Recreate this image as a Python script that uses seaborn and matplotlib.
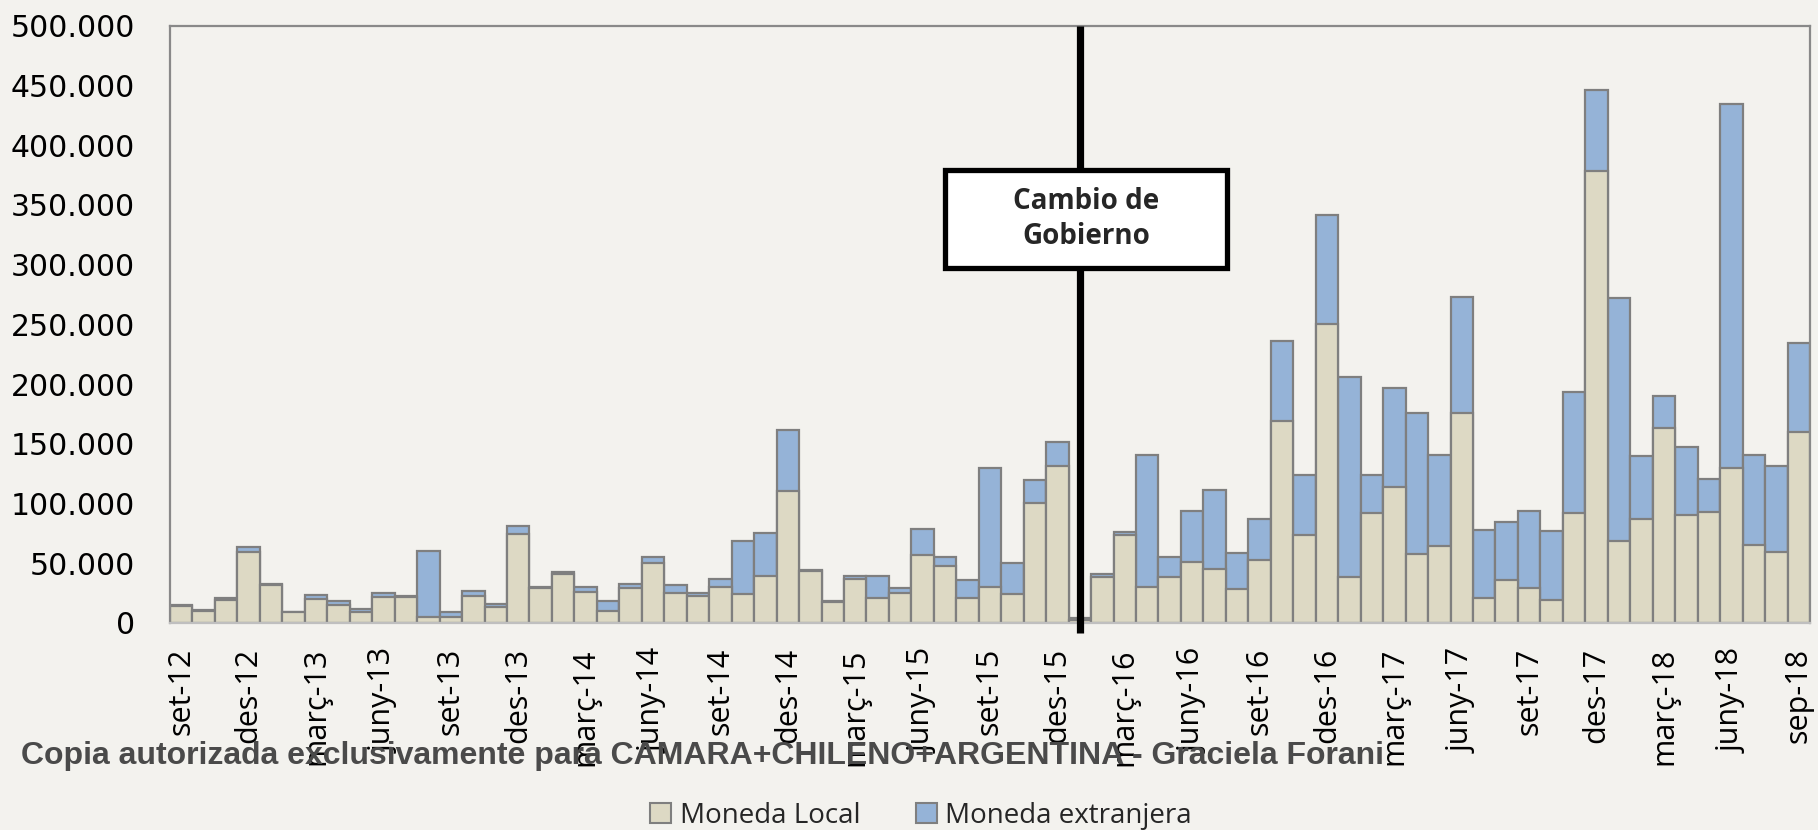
import matplotlib
matplotlib.use("Agg")
import matplotlib.pyplot as plt
from matplotlib.patches import Rectangle, Patch
from matplotlib.ticker import FuncFormatter
import seaborn as sns
import numpy as np

# ---------------- data ----------------
month_names = ["set", "oct", "nov", "des", "gen", "febr", "març", "abr", "maig", "juny", "jul", "ag"]
months = []
for i in range(73):
    m = month_names[i % 12]
    yr = 12 + (i + 8) // 12
    months.append(f"{m}-{yr}")

tick_labels = ["set-12", "des-12", "març-13", "juny-13", "set-13", "des-13", "març-14",
               "juny-14", "set-14", "des-14", "març-15", "juny-15", "set-15", "des-15",
               "març-16", "juny-16", "set-16", "des-16", "març-17", "juny-17", "set-17",
               "des-17", "març-18", "juny-18", "sep-18"]

moneda_local = [14000, 10000, 19500, 59500, 32000, 9000, 20000, 15300, 8900, 21800,
                21800, 4700, 5300, 22600, 13700, 74800, 29000, 41000, 25700, 9800,
                29300, 50200, 25400, 22600, 29800, 24300, 39000, 110500, 43500, 17300,
                36800, 21200, 25400, 56900, 47700, 21200, 30100, 24500, 100400, 131400,
                2500, 38200, 73900, 30400, 38800, 50800, 45500, 28700, 52700, 169300,
                73600, 249900, 38800, 92300, 113500, 57500, 64100, 176100, 20800, 35700,
                29600, 18900, 91900, 377900, 68700, 87000, 163300, 90000, 93100, 129700,
                65600, 59500, 160000]

moneda_extranjera = [800, 600, 1700, 4100, 400, 200, 3200, 3400, 2500, 3600,
                     1100, 55600, 4200, 4500, 2200, 6700, 1100, 1400, 4100, 8600,
                     3600, 4800, 6100, 2500, 7300, 44300, 36300, 51000, 600, 1100,
                     2800, 18100, 3600, 21800, 7500, 14800, 99300, 26000, 19300, 20100,
                     1500, 2500, 2300, 110500, 16200, 42900, 65800, 30200, 34000, 67000,
                     50200, 91500, 167300, 31500, 82900, 118000, 76200, 97100, 57000, 48900,
                     64400, 58300, 101000, 68100, 203000, 52500, 26900, 57100, 27500, 304700,
                     75100, 71800, 74400]

series_names = ["Moneda Local", "Moneda extranjera"]
annotation_text = "Cambio de\nGobierno"
copy_text = "Copia autorizada exclusivamente para CAMARA+CHILENO+ARGENTINA - Graciela Forani"

# ---------------- style ----------------
BG = "#F3F2EE"
BEIGE = "#DDD9C4"
BLUE = "#95B3D7"
EDGE = "#7F7F7F"

sns.set_theme(style="white")
plt.rcParams["font.family"] = ["DejaVu Sans"]

fig = plt.figure(figsize=(18.18, 8.3), dpi=100, facecolor=BG)
ax = fig.add_axes([170 / 1818, 1 - 623 / 830, 1640 / 1818, (623 - 25.5) / 830])
ax.set_facecolor(BG)

totals = [a + b for a, b in zip(moneda_local, moneda_extranjera)]

sns.barplot(x=months, y=totals, order=months, color=BLUE, saturation=1, width=1.0,
            edgecolor=EDGE, linewidth=1.6, ax=ax)
sns.barplot(x=months, y=moneda_local, order=months, color=BEIGE, saturation=1, width=1.0,
            edgecolor=EDGE, linewidth=1.6, ax=ax)

ax.set_xlim(-0.5, len(months) - 0.5)
ax.set_ylim(0, 500000)
ax.set_yticks(np.arange(0, 500001, 50000))
ax.yaxis.set_major_formatter(FuncFormatter(lambda v, p: f"{int(v):,}".replace(",", ".")))
ax.tick_params(axis="y", length=0, pad=25, labelsize=21.5, labelcolor="black")

tick_pos = [months.index(t) if t in months else len(months) - 1 for t in tick_labels]
ax.set_xticks(tick_pos)
ax.set_xticklabels(tick_labels, rotation=90, fontsize=22, family="Open Sans",
                   va="top", ha="center")
ax.tick_params(axis="x", length=0, pad=18, labelcolor="black")
ax.set_xlabel("")
ax.set_ylabel("")

for s in ["left", "top", "right"]:
    ax.spines[s].set_color("#898989")
    ax.spines[s].set_linewidth(1.6)
    ax.spines[s].set_visible(True)
ax.spines["bottom"].set_color("#BFBFBF")
ax.spines["bottom"].set_linewidth(1.6)

# vertical line "Cambio de Gobierno"
ax.plot([40, 40], [-8000, 500000], color="black", linewidth=5.2, clip_on=False,
        solid_capstyle="butt", zorder=5)
rect = Rectangle((34.0, 297000), 12.55, 82000, facecolor="white", edgecolor="black",
                 linewidth=3.8, zorder=6, clip_on=False)
ax.add_patch(rect)
ax.text(40.3, 338000, annotation_text, ha="center", va="center", fontsize=20,
        fontweight="bold", family="Open Sans", linespacing=1.3, zorder=7)

# copyright text
ct = fig.text(21 / 1818, 1 - 756 / 830, copy_text, ha="left", va="center",
              fontsize=22, fontweight="bold", family="Liberation Sans", color="#4A4A4A")
fig.canvas.draw()
w = ct.get_window_extent(renderer=fig.canvas.get_renderer()).width
ct.set_fontsize(22 * 1364 / w)

# legend
handles = [Patch(facecolor=BEIGE, edgecolor=EDGE, linewidth=1.5, label=series_names[0]),
           Patch(facecolor=BLUE, edgecolor=EDGE, linewidth=1.5, label=series_names[1])]
fig.legend(handles=handles, loc="center", bbox_to_anchor=(921 / 1818, 1 - 816 / 830),
           ncol=2, frameon=False, prop={"family": "Open Sans", "size": 20},
           handlelength=0.75, handleheight=0.75, handletextpad=0.3, columnspacing=2.0,
           borderpad=0)

fig.savefig("out.png", dpi=100, facecolor=BG)
